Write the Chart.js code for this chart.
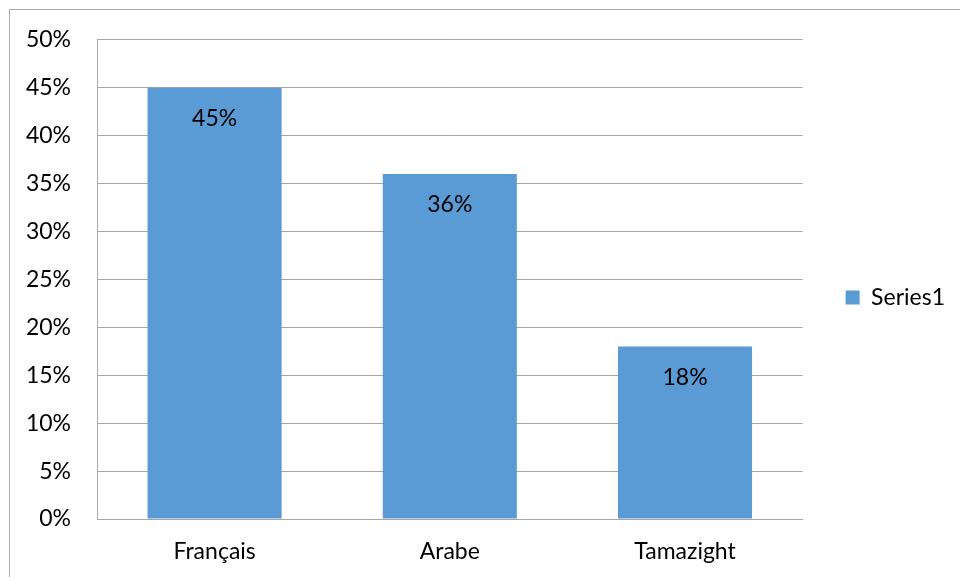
<!DOCTYPE html>
<html>
<head>
<meta charset="utf-8">
<script src="https://cdn.jsdelivr.net/npm/chart.js@4"></script>
<style>
  body { margin: 0; background: #fff; }
  #frame { position: absolute; left: 9px; top: 9px; width: 1000px; height: 600px;
           border-top: 1px solid #a9a9a9; border-left: 1px solid #a9a9a9; }
  #wrap { position: absolute; left: 0; top: 0; width: 960px; height: 577px; }
</style>
</head>
<body>
<div id="frame"></div>
<div id="wrap"><canvas id="c"></canvas></div>
<script>
const categories = ['Français', 'Arabe', 'Tamazight'];
const seriesName = 'Series1';
const values = [45, 36, 18];
const yTicks = [0, 5, 10, 15, 20, 25, 30, 35, 40, 45, 50];

const FONT = 'Lato';
const gridColor = '#a6a6a6';

// labels inside the top of each bar
const barLabels = {
    id: 'barLabels',
    afterDatasetsDraw(chart) {
        const ctx = chart.ctx;
        const meta = chart.getDatasetMeta(0);
        ctx.save();
        ctx.font = '23px ' + FONT;
        ctx.fillStyle = '#000';
        ctx.textAlign = 'center';
        ctx.textBaseline = 'middle';
        meta.data.forEach((bar, i) => {
            ctx.fillText(values[i] + '%', bar.x, bar.y + 31);
        });
        ctx.restore();
    }
};

let config = {
    type: 'bar',
    data: {
        labels: categories,
        datasets: [{
            label: seriesName,
            data: values,
            backgroundColor: '#5b9bd5',
            borderWidth: 0,
            categoryPercentage: 1,
            barPercentage: 0.57
        }]
    },
    options: {
        responsive: true,
        maintainAspectRatio: false,
        animation: false,
        layout: {
            padding: { top: 39, left: 0, right: 5, bottom: 0 }
        },
        plugins: {
            legend: {
                position: 'right',
                fullSize: false,
                // empty title only pushes the entry down a bit
                title: { display: true, text: '', font: { size: 10 }, padding: { top: 0, bottom: 24 } },
                labels: {
                    boxWidth: 14,
                    boxHeight: 14,
                    padding: 43,
                    color: '#000',
                    font: { family: FONT, size: 23 }
                }
            },
            tooltip: { enabled: false }
        },
        scales: {
            y: {
                min: 0,
                max: 50,
                afterFit(scale) { scale.width = 97; },
                afterBuildTicks(scale) { scale.ticks = yTicks.map(v => ({ value: v })); },
                ticks: {
                    padding: 26,
                    color: '#000',
                    font: { family: FONT, size: 23 },
                    callback: v => v + '%'
                },
                grid: { color: gridColor, drawTicks: false },
                border: { color: gridColor }
            },
            x: {
                afterFit(scale) { scale.height = 58; },
                ticks: {
                    padding: 19,
                    color: '#000',
                    font: { family: FONT, size: 23 }
                },
                grid: { display: false, drawTicks: false },
                border: { color: gridColor }
            }
        }
    },
    plugins: [barLabels]
};

new Chart(document.getElementById('c'), config);
</script>
</body>
</html>
